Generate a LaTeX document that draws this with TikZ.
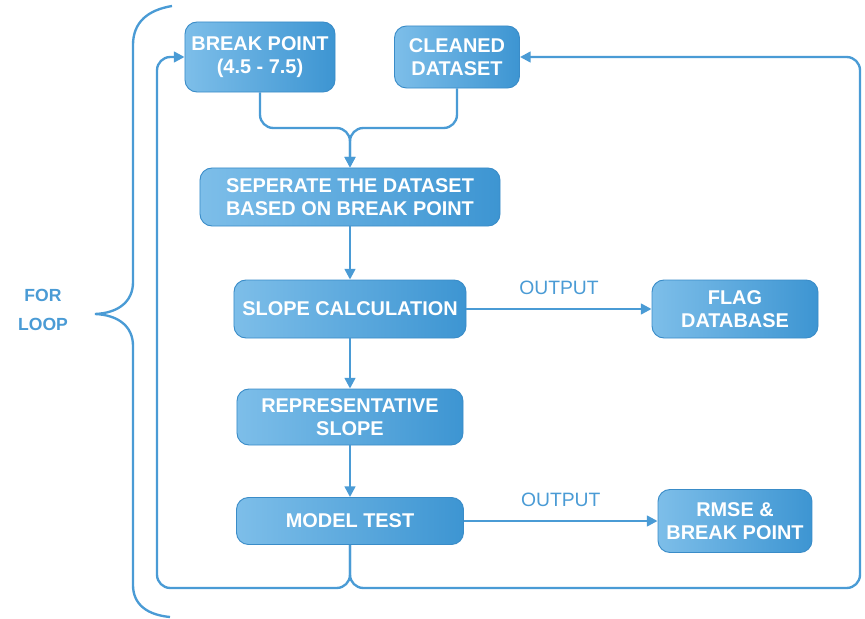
\documentclass[tikz,border=0pt]{standalone}
\usepackage{fontspec}
\setmainfont{Liberation Sans}
\usetikzlibrary{arrows.meta}
\definecolor{boxlight}{HTML}{7DBEE9}
\definecolor{boxdark}{HTML}{3D95D2}
\definecolor{boxedge}{HTML}{3A8CC8}
\definecolor{linkblue}{HTML}{4A9BD5}
\tikzset{
  flowbox/.style={rounded corners=0.36cm, draw=boxedge, line width=0.8pt,
    left color=boxlight, right color=boxdark, text=white, align=center,
    inner sep=0pt, font=\bfseries\fontsize{17}{20}\selectfont},
  link/.style={draw=linkblue, line width=2pt, rounded corners=0.4cm},
  arrowlink/.style={link, -{Triangle[length=9pt,width=9pt]}},
  outlabel/.style={text=linkblue, font=\fontsize{16.5}{19}\selectfont}
}
\begin{document}
\begin{tikzpicture}[x=0.03cm, y=-0.03cm]
    \useasboundingbox (0,0) rectangle (865,619);
    % boxes
    \node[flowbox, minimum width=4.5cm, minimum height=2.1cm] (brk) at (260,57) {BREAK POINT\\(4.5 - 7.5)};
    \node[flowbox, minimum width=3.75cm, minimum height=1.86cm] (cln) at (457,57) {CLEANED\\DATASET};
    \node[flowbox, minimum width=9cm, minimum height=1.74cm] (sep) at (350,197) {SEPERATE THE DATASET\\BASED ON BREAK POINT};
    \node[flowbox, minimum width=6.96cm, minimum height=1.74cm] (slp) at (350,309) {SLOPE CALCULATION};
    \node[flowbox, minimum width=4.98cm, minimum height=1.74cm] (flg) at (735,309) {FLAG\\DATABASE};
    \node[flowbox, minimum width=6.78cm, minimum height=1.68cm] (rep) at (350,417) {REPRESENTATIVE\\SLOPE};
    \node[flowbox, minimum width=6.81cm, minimum height=1.41cm] (mdl) at (350,521) {MODEL TEST};
    \node[flowbox, minimum width=4.62cm, minimum height=1.89cm] (rms) at (735,521) {RMSE \&\\BREAK POINT};
    \node[text=linkblue, align=center, font=\bfseries\fontsize{15}{25}\selectfont] (loop) at (43,310) {FOR\\LOOP};
    % merge of the two inputs
    \coordinate (merge) at (350,128);
    \draw[arrowlink] (brk.south) -- (260,128) -- (merge) -- (sep.north);
    \draw[arrowlink] (cln.south) -- (457,128) -- (merge) -- (sep.north);
    % main chain
    \draw[arrowlink] (sep.south) -- (slp.north);
    \draw[arrowlink] (slp.south) -- (rep.north);
    \draw[arrowlink] (rep.south) -- (mdl.north);
    \draw[arrowlink] (slp.east) -- node[outlabel, above=8pt] (out1) {OUTPUT} (flg.west);
    \draw[arrowlink] (mdl.east) -- node[outlabel, above=8pt] (out2) {OUTPUT} (rms.west);
    % loop back
    \coordinate (back) at (350,588);
    \draw[arrowlink] (mdl.south) -- (back) -- (157,588) -- (157,57) -- (brk.west);
    \draw[arrowlink] (mdl.south) -- (back) -- (860,588) -- (860,57) -- (cln.east);
    % brace
    \draw[linkblue, line width=2pt] (172,6) .. controls (148,10) and (133,22) .. (133,45) -- (133,282)
        .. controls (133,302) and (118,313) .. (95,314) .. controls (118,315) and (133,326) .. (133,346)
        -- (133,585) .. controls (133,605) and (148,615) .. (170,617);
\end{tikzpicture}
\end{document}
